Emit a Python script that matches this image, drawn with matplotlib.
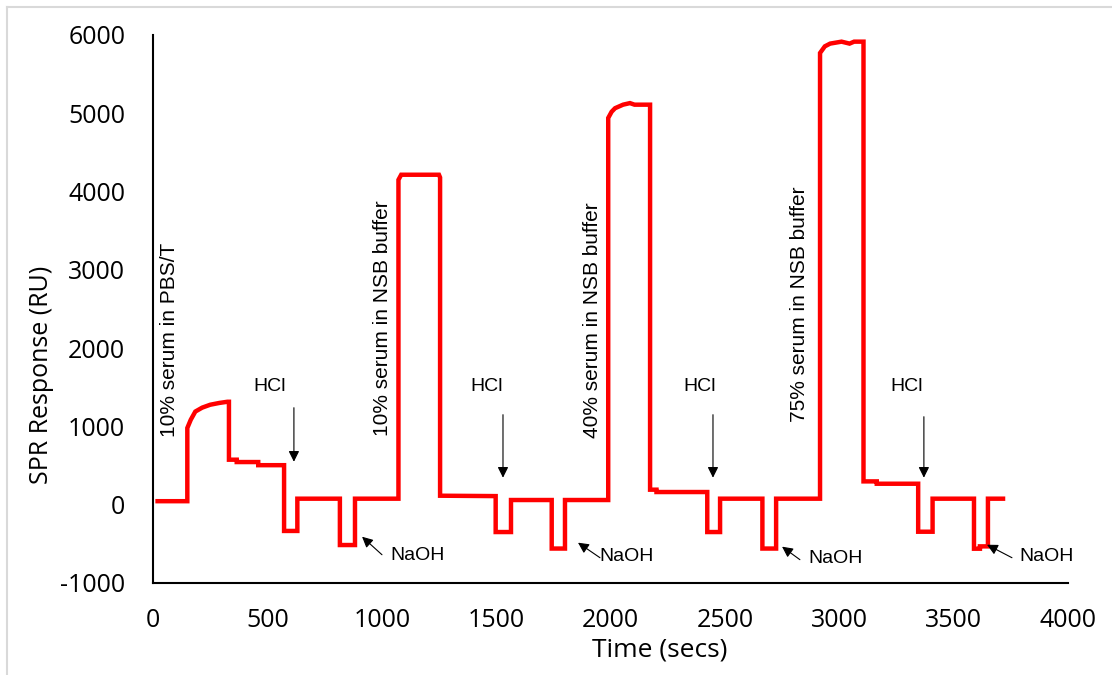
import matplotlib
matplotlib.use("Agg")
import matplotlib.pyplot as plt
from matplotlib.lines import Line2D

# SPR sensorgram (time in secs, response in RU)
time_s = [20, 150, 150, 165, 185, 215, 250, 290, 325, 332, 332, 366, 366, 460, 460,
          573, 573, 631, 631, 817, 817, 883, 883, 1073, 1073, 1085, 1250, 1255, 1255,
          1498, 1498, 1565, 1565, 1743, 1743, 1801, 1801, 1990, 1990, 2005, 2020, 2055,
          2085, 2105, 2173, 2173, 2201, 2201, 2423, 2423, 2479, 2479, 2664, 2664, 2724,
          2724, 2916, 2916, 2937, 2960, 3010, 3045, 3065, 3106, 3106, 3164, 3164, 3345,
          3345, 3408, 3408, 3589, 3589, 3615, 3615, 3650, 3650, 3716]
response_ru = [45, 45, 980, 1085, 1190, 1240, 1277, 1300, 1315, 1315, 575, 575, 545, 545, 505,
               505, -335, -335, 77, 77, -515, -515, 77, 77, 4150, 4215, 4215, 4180, 115,
               110, -349, -349, 60, 60, -560, -560, 60, 60, 4940, 5020, 5065, 5110,
               5130, 5110, 5110, 192, 192, 162, 162, -349, -349, 77, 77, -560, -560,
               77, 77, 5770, 5855, 5890, 5915, 5890, 5915, 5915, 298, 298, 268, 268,
               -345, -345, 77, 77, -562, -562, -532, -532, 77, 77]

# injection labels (rotated) : text, x, y
inj_labels = ["10% serum in PBS/T", "10% serum in NSB buffer",
              "40% serum in NSB buffer", "75% serum in NSB buffer"]
inj_x = [74, 1005, 1923, 2828]
inj_y = [2108, 2382, 2363, 2561]

# HCl arrows: label position, arrow tail and tip
hcl_text_x = [511, 1460, 2391, 3296]
hcl_text_y = [1507, 1507, 1507, 1507]
hcl_x = [616, 1530, 2448, 3370]
hcl_tail_y = [1239, 1150, 1150, 1124]
hcl_tip_y = [549, 345, 345, 345]

# NaOH arrows
naoh_text_x = [1158, 2072, 2986, 3908]
naoh_text_y = [-651, -664, -690, -664]
naoh_tail_x = [1001, 1954, 2828, 3755]
naoh_tail_y = [-639, -677, -702, -677]
naoh_tip_x = [914, 1858, 2750, 3646]
naoh_tip_y = [-409, -485, -536, -511]

x_ticks = [0, 500, 1000, 1500, 2000, 2500, 3000, 3500, 4000]
y_ticks = [-1000, 0, 1000, 2000, 3000, 4000, 5000, 6000]

#%%
fig = plt.figure(figsize=(11.12, 6.75), dpi=100)
ax = fig.add_axes([153 / 1112, 1 - 583 / 675, 915 / 1112, 548 / 675])

ax.plot(time_s, response_ru, color="#ff0000", lw=3.2, solid_joinstyle="miter")

ax.set_xlim(0, 4000)
ax.set_ylim(-1000, 6000)
ax.set_xticks(x_ticks)
ax.set_yticks(y_ticks)
ax.set_xticklabels([str(v) for v in x_ticks], family="Open Sans", fontsize=18)
ax.set_yticklabels([str(v) for v in y_ticks], family="Open Sans", fontsize=18)
ax.tick_params(axis="x", length=0, pad=18)
ax.tick_params(axis="y", length=0, pad=20)

for side in ["top", "right"]:
    ax.spines[side].set_visible(False)
ax.spines["left"].set_linewidth(1.5)
ax.spines["bottom"].set_linewidth(1.5)

ax.set_xlabel("Time (secs)", family="Open Sans", fontsize=19)
ax.xaxis.set_label_coords(0.554, -0.1)
ax.set_ylabel("SPR Response (RU)", family="Open Sans", fontsize=18)
ax.yaxis.set_label_coords(-0.108, 0.38)

for txt, x, y in zip(inj_labels, inj_x, inj_y):
    ax.text(x, y, txt, rotation=90, ha="center", va="center",
            family="Liberation Sans", fontsize=15)

for i in range(4):
    ax.text(hcl_text_x[i], hcl_text_y[i], "HCl", ha="center", va="center",
            family="Liberation Sans", fontsize=14)
    ax.annotate("", xy=(hcl_x[i], hcl_tip_y[i]), xytext=(hcl_x[i], hcl_tail_y[i]),
                arrowprops=dict(arrowstyle="-|>", color="black", lw=0.8,
                                mutation_scale=16, shrinkA=0, shrinkB=0))
    ax.text(naoh_text_x[i], naoh_text_y[i], "NaOH", ha="center", va="center",
            family="Liberation Sans", fontsize=14)
    ax.annotate("", xy=(naoh_tip_x[i], naoh_tip_y[i]),
                xytext=(naoh_tail_x[i], naoh_tail_y[i]),
                arrowprops=dict(arrowstyle="-|>", color="black", lw=0.8,
                                mutation_scale=16, shrinkA=0, shrinkB=0))

# light grey frame on the left and top of the picture
fig.add_artist(Line2D([7 / 1112, 7 / 1112], [0, 1 - 7 / 675], color="#d9d9d9", lw=1.5))
fig.add_artist(Line2D([7 / 1112, 1], [1 - 7 / 675, 1 - 7 / 675], color="#d9d9d9", lw=1.5))

fig.savefig("out.png", dpi=100)
